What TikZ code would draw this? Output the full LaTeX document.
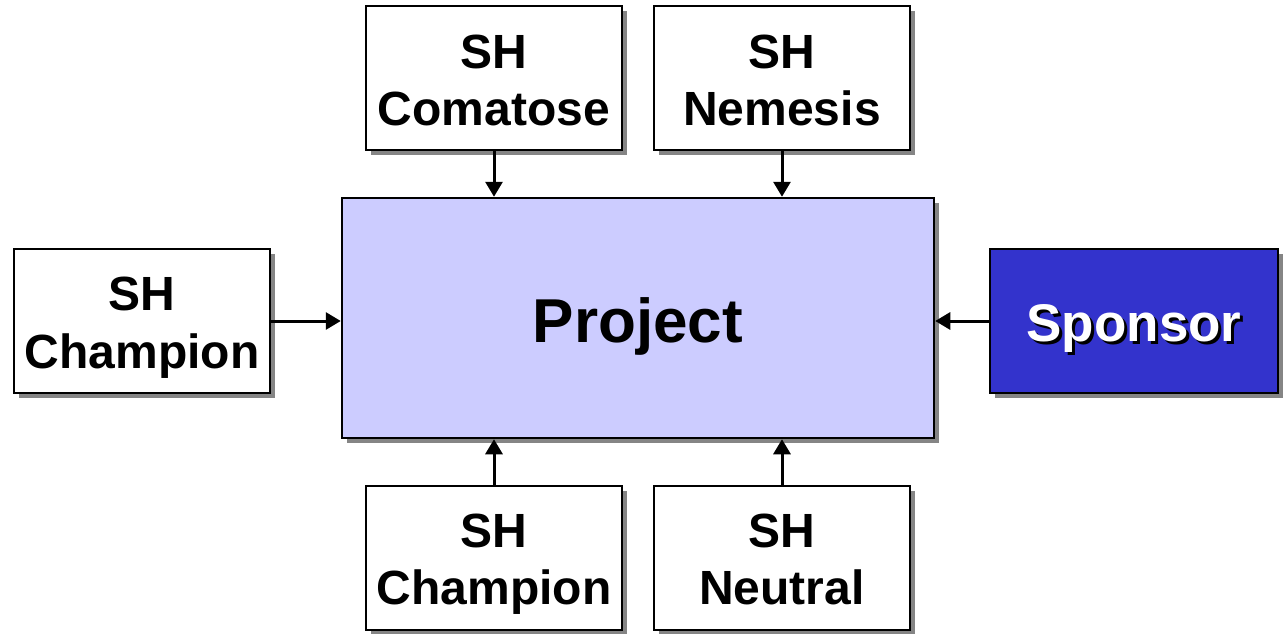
\documentclass[tikz,border=0pt]{standalone}
\usepackage{fontspec}
\setmainfont{Liberation Sans}
\usetikzlibrary{arrows.meta,shadows}
\definecolor{projfill}{HTML}{CCCCFF}
\definecolor{sponsfill}{HTML}{3333CC}
\definecolor{shadowgray}{HTML}{858585}
\tikzset{
  box/.style={draw=black, line width=2.5pt, fill=white, inner sep=0pt,
    minimum width=256pt, minimum height=144pt,
    drop shadow={shadow xshift=5pt, shadow yshift=-5pt, fill=shadowgray, opacity=1}},
  txt/.style={anchor=base, inner sep=0pt, font=\fontsize{48}{56}\selectfont\bfseries},
  conn/.style={line width=3pt, -{Triangle[length=15pt,width=17pt]}},
}
\newcommand{\shadowtext}[1]{\makebox[0pt][l]{\hspace*{3pt}\raisebox{-3pt}{\textcolor{black}{#1}}}\textcolor{white}{#1}}
\begin{document}
\begin{tikzpicture}[x=1pt,y=-1pt]
\useasboundingbox (0,0) rectangle (1285,634);
% boxes
\node[box] (coma) at (494,78) {};
\node[box] (neme) at (782,78) {};
\node[box] (champL) at (142,321) {};
\node[box] (champB) at (494,558) {};
\node[box] (neut) at (782,558) {};
\node[box, fill=projfill, minimum width=592pt, minimum height=240pt] (proj) at (638,318) {};
\node[box, fill=sponsfill, minimum width=288pt, minimum height=144pt] (spons) at (1134,321) {};
% texts
\node[txt] (comaA) at (494,68) {SH};
\node[txt] (comaB) at (494,125) {Comatose};
\node[txt] (nemeA) at (782,68) {SH};
\node[txt] (nemeB) at (782,125) {Nemesis};
\node[txt] (champLA) at (142,310) {SH};
\node[txt] (champLB) at (142,368) {Champion};
\node[txt] (champBA) at (494,547) {SH};
\node[txt] (champBB) at (494,604) {Champion};
\node[txt] (neutA) at (782,547) {SH};
\node[txt] (neutB) at (782,604) {Neutral};
\node[txt, font=\fontsize{62}{70}\selectfont\bfseries] (projT) at (638,342) {Project};
\node[txt, font=\fontsize{53}{60}\selectfont\bfseries] (sponsT) at (1134,341) {\shadowtext{Sponsor}};
% connectors
\draw[conn] (coma.south) -- (proj.north -| coma.south);
\draw[conn] (neme.south) -- (proj.north -| neme.south);
\draw[conn] (champB.north) -- (proj.south -| champB.north);
\draw[conn] (neut.north) -- (proj.south -| neut.north);
\draw[conn] (champL.east) -- (proj.west |- champL.east);
\draw[conn] (spons.west) -- (proj.east |- spons.west);
\end{tikzpicture}
\end{document}
